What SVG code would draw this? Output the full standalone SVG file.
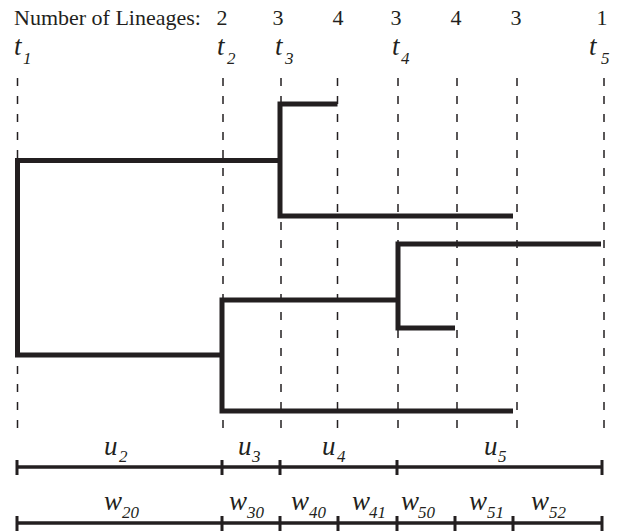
<svg xmlns="http://www.w3.org/2000/svg" width="625" height="532" viewBox="0 0 625 532">
<style>
.dash{stroke:#231f20;stroke-width:1.5;stroke-dasharray:8 10;fill:none}
.br{stroke:#231f20;stroke-width:5;fill:none;stroke-linecap:butt;stroke-linejoin:miter}
.bar{stroke:#231f20;stroke-width:3.5;fill:none}
.tick{stroke:#231f20;stroke-width:3;fill:none}
.num{font-family:"Liberation Serif","Times New Roman",serif;font-size:22px;fill:#231f20}
.it{font-family:"Liberation Serif","Times New Roman",serif;font-style:italic;font-size:27px;fill:#231f20}
.sub{font-family:"Liberation Serif","Times New Roman",serif;font-style:italic;font-size:17px;fill:#231f20}
</style>
<rect width="625" height="532" fill="#fff"/>
<g id="header">
<text class="num" x="14" y="25">Number of Lineages:</text>
<g text-anchor="middle">
<text class="num" x="222" y="25">2</text>
<text class="num" x="278" y="25">3</text>
<text class="num" x="338" y="25">4</text>
<text class="num" x="396" y="25">3</text>
<text class="num" x="456" y="25">4</text>
<text class="num" x="516" y="25">3</text>
<text class="num" x="602" y="25">1</text>
</g>
</g>
<g id="time-labels">
<text class="it" x="14" y="55">t</text><text class="sub" x="23" y="64">1</text>
<text class="it" x="217" y="55">t</text><text class="sub" x="227" y="64">2</text>
<text class="it" x="275" y="55">t</text><text class="sub" x="285" y="64">3</text>
<text class="it" x="392" y="55">t</text><text class="sub" x="401" y="64">4</text>
<text class="it" x="589" y="55">t</text><text class="sub" x="601" y="64">5</text>
</g>
<g id="gridlines">
<line class="dash" x1="17.5" y1="78" x2="17.5" y2="432"/>
<line class="dash" x1="223" y1="78" x2="223" y2="432"/>
<line class="dash" x1="281" y1="78" x2="281" y2="432"/>
<line class="dash" x1="337.5" y1="78" x2="337.5" y2="432"/>
<line class="dash" x1="398" y1="78" x2="398" y2="432"/>
<line class="dash" x1="457" y1="78" x2="457" y2="432"/>
<line class="dash" x1="517" y1="78" x2="517" y2="432"/>
<line class="dash" x1="604" y1="78" x2="604" y2="432"/>
</g>
<g id="connectors">
<path class="br" d="M280,160.5 H17.5 V355 H222"/>
<path class="br" d="M337.5,104 H280 V216 H513"/>
<path class="br" d="M398,300 H222 V411 H513"/>
<path class="br" d="M601,244 H398 V328 H455"/>
</g>
<g id="scale-u">
<line class="bar" x1="17" y1="467" x2="602" y2="467"/>
<path class="tick" d="M17,460V475M222,460V475M280,460V475M397,460V475M602,460V475"/>
<text class="it" x="104" y="455">u</text><text class="sub" x="119" y="462">2</text>
<text class="it" x="238" y="455">u</text><text class="sub" x="252" y="462">3</text>
<text class="it" x="322" y="455">u</text><text class="sub" x="337" y="462">4</text>
<text class="it" x="484" y="455">u</text><text class="sub" x="498" y="462">5</text>
</g>
<g id="scale-w">
<line class="bar" x1="17" y1="523" x2="602" y2="523"/>
<path class="tick" d="M17,516V531M222,516V531M280,516V531M338,516V531M397,516V531M455,516V531M513,516V531M602,516V531"/>
<text class="it" x="104" y="510">w</text><text class="sub" x="122" y="518">20</text>
<text class="it" x="229" y="510">w</text><text class="sub" x="247" y="518">30</text>
<text class="it" x="291" y="510">w</text><text class="sub" x="309" y="518">40</text>
<text class="it" x="352" y="510">w</text><text class="sub" x="369" y="518">41</text>
<text class="it" x="401" y="510">w</text><text class="sub" x="418" y="518">50</text>
<text class="it" x="469" y="510">w</text><text class="sub" x="487" y="518">51</text>
<text class="it" x="531" y="510">w</text><text class="sub" x="549" y="518">52</text>
</g>
</svg>
